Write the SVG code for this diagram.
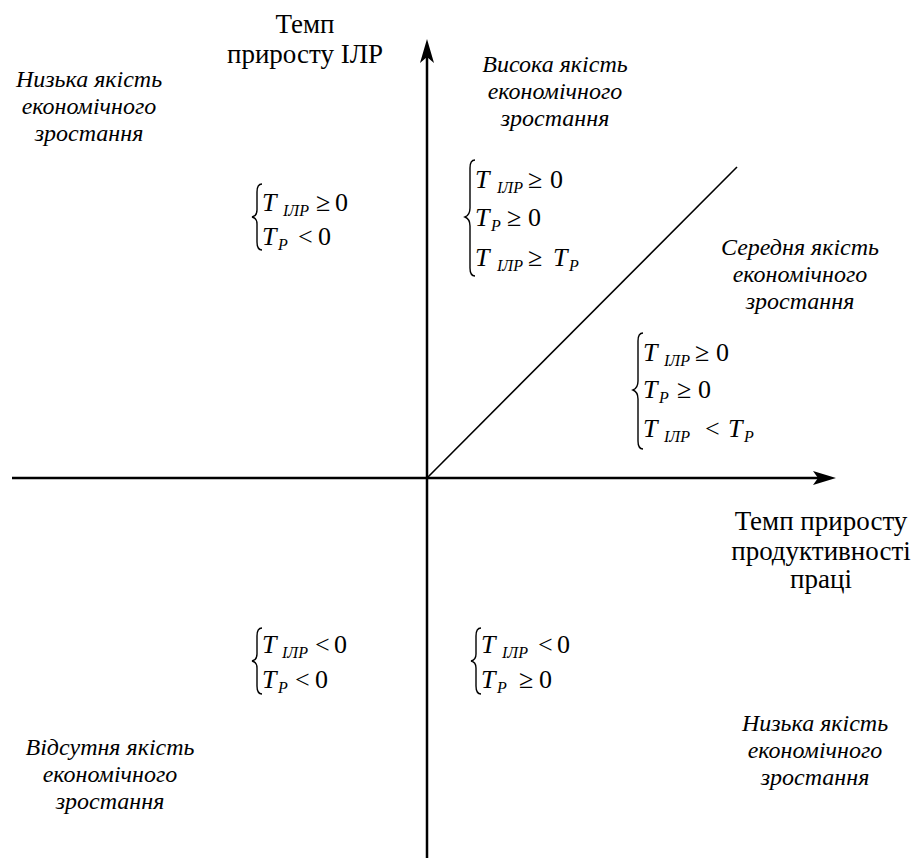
<svg xmlns="http://www.w3.org/2000/svg" width="915" height="858" viewBox="0 0 915 858">
<g id="connectors">
<line stroke="#000" stroke-width="2.5" x1="12" y1="478" x2="825" y2="478"/>
<polygon points="836,478 813,471 818,478 813,485" fill="#000"/>
<line stroke="#000" stroke-width="2.5" x1="427" y1="50" x2="427" y2="858"/>
<polygon points="427,39 420,63 427,57 434,63" fill="#000"/>
<line stroke="#000" stroke-width="1.6" x1="427" y1="478" x2="737" y2="167"/>
</g>
<g id="y-axis-label">
<text font-family="Liberation Serif" font-size="27" text-anchor="middle" x="305" y="33">Темп</text>
<text font-family="Liberation Serif" font-size="27" text-anchor="middle" x="305" y="63">приросту ІЛР</text>
</g>
<g id="x-axis-label">
<text font-family="Liberation Serif" font-size="27" text-anchor="middle" x="821" y="530">Темп приросту</text>
<text font-family="Liberation Serif" font-size="27" text-anchor="middle" x="821" y="560">продуктивності</text>
<text font-family="Liberation Serif" font-size="27" text-anchor="middle" x="821" y="588">праці</text>
</g>
<g id="q-low-top">
<text font-family="Liberation Serif" font-size="24" font-style="italic" text-anchor="middle" x="89" y="87">Низька якість</text>
<text font-family="Liberation Serif" font-size="24" font-style="italic" text-anchor="middle" x="89" y="114">економічного</text>
<text font-family="Liberation Serif" font-size="24" font-style="italic" text-anchor="middle" x="89" y="141">зростання</text>
</g>
<g id="q-high">
<text font-family="Liberation Serif" font-size="24" font-style="italic" text-anchor="middle" x="555" y="72">Висока якість</text>
<text font-family="Liberation Serif" font-size="24" font-style="italic" text-anchor="middle" x="555" y="99">економічного</text>
<text font-family="Liberation Serif" font-size="24" font-style="italic" text-anchor="middle" x="555" y="126">зростання</text>
</g>
<g id="q-mid">
<text font-family="Liberation Serif" font-size="24" font-style="italic" text-anchor="middle" x="800" y="255">Середня якість</text>
<text font-family="Liberation Serif" font-size="24" font-style="italic" text-anchor="middle" x="800" y="282">економічного</text>
<text font-family="Liberation Serif" font-size="24" font-style="italic" text-anchor="middle" x="800" y="309">зростання</text>
</g>
<g id="q-none">
<text font-family="Liberation Serif" font-size="24" font-style="italic" text-anchor="middle" x="110" y="755">Відсутня якість</text>
<text font-family="Liberation Serif" font-size="24" font-style="italic" text-anchor="middle" x="110" y="782">економічного</text>
<text font-family="Liberation Serif" font-size="24" font-style="italic" text-anchor="middle" x="110" y="809">зростання</text>
</g>
<g id="q-low-bottom">
<text font-family="Liberation Serif" font-size="24" font-style="italic" text-anchor="middle" x="815" y="731">Низька якість</text>
<text font-family="Liberation Serif" font-size="24" font-style="italic" text-anchor="middle" x="815" y="758">економічного</text>
<text font-family="Liberation Serif" font-size="24" font-style="italic" text-anchor="middle" x="815" y="785">зростання</text>
</g>
<g id="f-top-left">
<path stroke="#000" stroke-width="1.4" fill="none" d="M262,184 Q257,184 257,192 L257,210 Q257,216 252,217 Q257,218 257,224 L257,242 Q257,250 262,250"/>
<text font-family="Liberation Serif" font-size="26" font-style="italic" x="262" y="211">T</text>
<text font-family="Liberation Serif" font-size="16" font-style="italic" x="283" y="216">ІЛР</text>
<text font-family="Liberation Serif" font-size="26" x="316" y="211">≥</text>
<text font-family="Liberation Serif" font-size="26" x="335" y="211">0</text>
<text font-family="Liberation Serif" font-size="26" font-style="italic" x="262" y="245">T</text>
<text font-family="Liberation Serif" font-size="16" font-style="italic" x="278" y="250">P</text>
<text font-family="Liberation Serif" font-size="26" x="298" y="245">&lt;</text>
<text font-family="Liberation Serif" font-size="26" x="318" y="245">0</text>
</g>
<g id="f-top-mid">
<path stroke="#000" stroke-width="1.4" fill="none" d="M475,160 Q470,160 470,168 L470,208 Q470,215 465,217 Q470,219 470,226 L470,268 Q470,276 475,276"/>
<text font-family="Liberation Serif" font-size="26" font-style="italic" x="475" y="188">T</text>
<text font-family="Liberation Serif" font-size="16" font-style="italic" x="497" y="193">ІЛР</text>
<text font-family="Liberation Serif" font-size="26" x="528" y="188">≥</text>
<text font-family="Liberation Serif" font-size="26" x="550" y="188">0</text>
<text font-family="Liberation Serif" font-size="26" font-style="italic" x="475" y="226">T</text>
<text font-family="Liberation Serif" font-size="16" font-style="italic" x="491" y="231">P</text>
<text font-family="Liberation Serif" font-size="26" x="507" y="226">≥</text>
<text font-family="Liberation Serif" font-size="26" x="528" y="226">0</text>
<text font-family="Liberation Serif" font-size="26" font-style="italic" x="475" y="266">T</text>
<text font-family="Liberation Serif" font-size="16" font-style="italic" x="497" y="271">ІЛР</text>
<text font-family="Liberation Serif" font-size="26" x="528" y="266">≥</text>
<text font-family="Liberation Serif" font-size="26" font-style="italic" x="553" y="266">T</text>
<text font-family="Liberation Serif" font-size="16" font-style="italic" x="569" y="271">P</text>
</g>
<g id="f-mid-right">
<path stroke="#000" stroke-width="1.4" fill="none" d="M643,333 Q638,333 638,341 L638,381 Q638,388 633,390 Q638,392 638,399 L638,441 Q638,449 643,449"/>
<text font-family="Liberation Serif" font-size="26" font-style="italic" x="643" y="361">T</text>
<text font-family="Liberation Serif" font-size="16" font-style="italic" x="664" y="366">ІЛР</text>
<text font-family="Liberation Serif" font-size="26" x="695" y="361">≥</text>
<text font-family="Liberation Serif" font-size="26" x="716" y="361">0</text>
<text font-family="Liberation Serif" font-size="26" font-style="italic" x="643" y="398">T</text>
<text font-family="Liberation Serif" font-size="16" font-style="italic" x="659" y="403">P</text>
<text font-family="Liberation Serif" font-size="26" x="677" y="398">≥</text>
<text font-family="Liberation Serif" font-size="26" x="698" y="398">0</text>
<text font-family="Liberation Serif" font-size="26" font-style="italic" x="643" y="437">T</text>
<text font-family="Liberation Serif" font-size="16" font-style="italic" x="664" y="442">ІЛР</text>
<text font-family="Liberation Serif" font-size="26" x="705" y="437">&lt;</text>
<text font-family="Liberation Serif" font-size="26" font-style="italic" x="728" y="437">T</text>
<text font-family="Liberation Serif" font-size="16" font-style="italic" x="744" y="442">P</text>
</g>
<g id="f-bottom-left">
<path stroke="#000" stroke-width="1.4" fill="none" d="M262,628 Q257,628 257,636 L257,654 Q257,660 252,661 Q257,662 257,668 L257,686 Q257,694 262,694"/>
<text font-family="Liberation Serif" font-size="26" font-style="italic" x="262" y="653">T</text>
<text font-family="Liberation Serif" font-size="16" font-style="italic" x="282" y="658">ІЛР</text>
<text font-family="Liberation Serif" font-size="26" x="315" y="653">&lt;</text>
<text font-family="Liberation Serif" font-size="26" x="334" y="653">0</text>
<text font-family="Liberation Serif" font-size="26" font-style="italic" x="262" y="688">T</text>
<text font-family="Liberation Serif" font-size="16" font-style="italic" x="278" y="693">P</text>
<text font-family="Liberation Serif" font-size="26" x="295" y="688">&lt;</text>
<text font-family="Liberation Serif" font-size="26" x="315" y="688">0</text>
</g>
<g id="f-bottom-mid">
<path stroke="#000" stroke-width="1.4" fill="none" d="M481,628 Q476,628 476,636 L476,654 Q476,660 471,661 Q476,662 476,668 L476,686 Q476,694 481,694"/>
<text font-family="Liberation Serif" font-size="26" font-style="italic" x="481" y="653">T</text>
<text font-family="Liberation Serif" font-size="16" font-style="italic" x="502" y="658">ІЛР</text>
<text font-family="Liberation Serif" font-size="26" x="538" y="653">&lt;</text>
<text font-family="Liberation Serif" font-size="26" x="557" y="653">0</text>
<text font-family="Liberation Serif" font-size="26" font-style="italic" x="481" y="688">T</text>
<text font-family="Liberation Serif" font-size="16" font-style="italic" x="497" y="693">P</text>
<text font-family="Liberation Serif" font-size="26" x="519" y="688">≥</text>
<text font-family="Liberation Serif" font-size="26" x="539" y="688">0</text>
</g>
</svg>
